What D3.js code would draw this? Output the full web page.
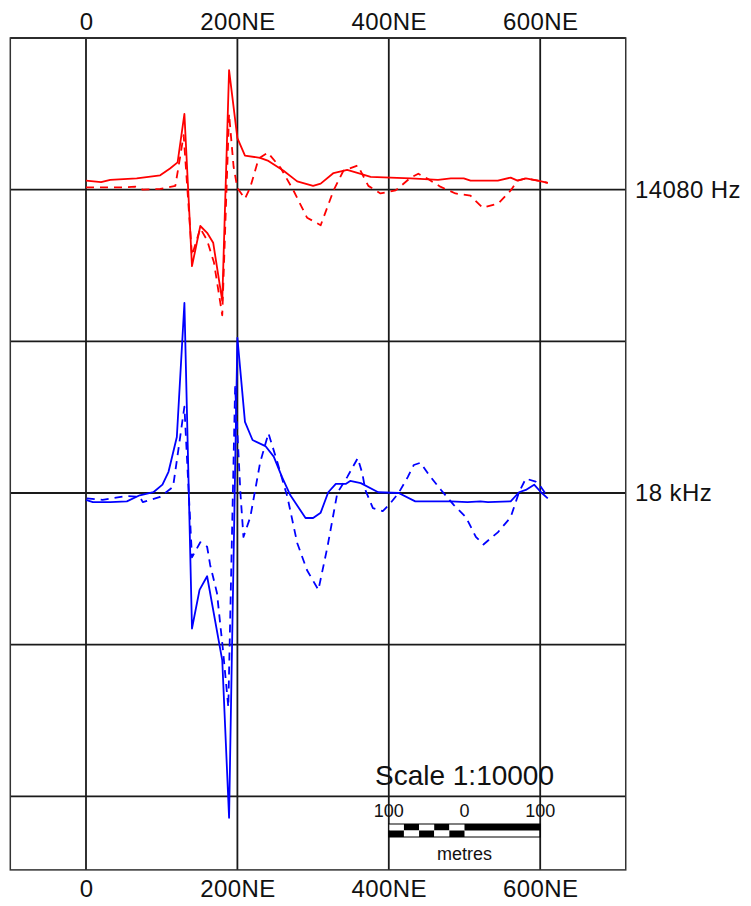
<!DOCTYPE html>
<html>
<head>
<meta charset="utf-8">
<script src="https://cdn.jsdelivr.net/npm/d3@7"></script>
<style>
  html, body { margin: 0; padding: 0; background: #fff; }
  svg { display: block; }
</style>
</head>
<body>
<svg id="chart" width="751" height="906"></svg>
<script>
// station positions along line (m) and profile values
var xTicks = [0, 200, 400, 600];
var xTickLabels = ["0", "200NE", "400NE", "600NE"];
var gridRows = [0, 200, 400, 600, 800, 1000];
var frameX = [-100, 713];
var frameY = [0, 1097];

var channels = ["14080 Hz", "18 kHz"];
var baselines = [200, 600];

// 14080 Hz
var hz14080Solid = [[0,12],[20,10],[32,13],[67,15],[98,19],[111,28],[121,36],[130,100],[140,-101],[151,-48],[160,-57],[168,-70],[180,-147],[189,158],[200,68],[210,45],[230,42],[241,38],[261,25],[279,11],[300,5],[310,8],[327,22],[345,26],[363,21],[376,17],[402,16],[429,15],[465,13],[482,15],[499,15],[508,12],[544,12],[561,16],[570,12],[581,15],[597,12],[610,9]];
var hz14080Dash = [[0,3],[20,3],[49,3],[65,4],[75,0],[98,1],[118,5],[122,29],[129,72],[140,-87],[151,-51],[160,-67],[169,-96],[180,-166],[189,100],[195,30],[200,2],[210,-12],[217,3],[228,41],[240,49],[257,29],[274,-1],[292,-37],[310,-47],[327,-1],[340,25],[359,32],[373,5],[389,-5],[409,-1],[429,16],[439,21],[452,14],[468,4],[488,-5],[508,-8],[524,-24],[545,-18],[561,-1],[570,12],[581,15],[597,12],[610,9]];

// 18 kHz
var khz18Solid = [[0,-9],[9,-12],[32,-12],[54,-11],[71,-3],[89,1],[101,11],[109,28],[120,74],[130,251],[140,-179],[150,-128],[160,-110],[180,-221],[189,-429],[200,205],[210,94],[220,70],[237,62],[248,48],[259,21],[270,-3],[290,-33],[300,-33],[310,-26],[320,1],[330,12],[343,12],[349,16],[363,13],[386,1],[413,0],[435,-11],[482,-11],[504,-12],[521,-11],[531,-12],[561,-11],[572,1],[581,4],[592,11],[601,1],[610,-7]];
var khz18Dash = [[1,-7],[22,-9],[54,-4],[71,-5],[75,-12],[98,-5],[115,8],[122,57],[130,114],[140,-85],[151,-65],[160,-71],[164,-95],[173,-132],[181,-208],[188,-283],[197,140],[204,0],[208,-58],[217,-32],[230,40],[241,79],[253,40],[266,-5],[279,-66],[292,-102],[307,-128],[319,-71],[332,0],[345,21],[359,46],[365,26],[369,4],[379,-20],[392,-24],[400,-16],[413,0],[425,21],[433,37],[442,40],[453,24],[469,4],[486,-16],[502,-32],[515,-58],[525,-68],[544,-52],[561,-32],[572,1],[581,19],[594,15],[601,8],[610,-5]];

var scaleBarTicks = [-100, 0, 100];
var scaleBarLabels = ["100", "0", "100"];
var scaleBarSegs = [0, 20, 40, 60, 80];

var svg = d3.select("#chart");
var font = "'Liberation Sans', Arial, sans-serif";

var x = d3.scaleLinear().domain([0, 600]).range([86, 540.2]);
var y = d3.scaleLinear().domain([0, 600]).range([38, 493]);
var amp = d3.scaleLinear().domain([0, 100]).range([0, -75.7]);

var frameL = x(frameX[0]), frameR = x(frameX[1]),
	frameT = y(frameY[0]), frameB = y(frameY[1]);

// grid
var grid = svg.append("g").attr("stroke", "#1a1a1a").attr("stroke-width", 1.8);
grid.selectAll(".vl").data(xTicks).enter().append("line")
	.attr("x1", function(d){ return x(d); }).attr("x2", function(d){ return x(d); })
	.attr("y1", frameT).attr("y2", frameB);
grid.selectAll(".hl").data(gridRows).enter().append("line")
	.attr("x1", frameL).attr("x2", frameR)
	.attr("y1", function(d){ return y(d); }).attr("y2", function(d){ return y(d); });
svg.append("rect")
	.attr("x", frameL).attr("y", frameT)
	.attr("width", frameR - frameL).attr("height", frameB - frameT)
	.attr("fill", "none").attr("stroke", "#333").attr("stroke-width", 1.5);

// axes labels top and bottom
var axTop = d3.axisTop(x).tickValues(xTicks)
	.tickFormat(function(d, i){ return xTickLabels[i]; }).tickSize(0).tickPadding(8);
var axBot = d3.axisBottom(x).tickValues(xTicks)
	.tickFormat(function(d, i){ return xTickLabels[i]; }).tickSize(0).tickPadding(10);

svg.append("g").attr("transform", "translate(0," + frameT + ")").call(axTop);
svg.append("g").attr("transform", "translate(0," + frameB + ")").call(axBot);
svg.selectAll(".domain").remove();
svg.selectAll(".tick text")
	.attr("font-family", font).attr("font-size", 24).attr("fill", "#111")
	.attr("letter-spacing", 0.4);

// channel labels
svg.selectAll(".chan").data(channels).enter().append("text")
	.attr("x", 635)
	.attr("y", function(d, i){ return y(baselines[i]) + 8; })
	.attr("font-family", font).attr("font-size", 24).attr("fill", "#111")
	.attr("letter-spacing", 0.4)
	.text(function(d){ return d; });

// profiles
function profile(data, base, color, dashed) {
	var line = d3.line()
		.x(function(d){ return x(d[0]); })
		.y(function(d){ return y(base) + amp(d[1]); });
	svg.append("path")
		.datum(data)
		.attr("d", line)
		.attr("fill", "none")
		.attr("stroke", color)
		.attr("stroke-width", 1.8)
		.attr("stroke-linejoin", "round")
		.attr("stroke-dasharray", dashed ? "8,6" : null);
}
profile(hz14080Solid, baselines[0], "#ff0000", false);
profile(hz14080Dash, baselines[0], "#ff0000", true);
profile(khz18Solid, baselines[1], "#0000ff", false);
profile(khz18Dash, baselines[1], "#0000ff", true);

// scale bar
var sbx = d3.scaleLinear().domain([-100, 100]).range([x(400), x(600)]);
var sb = svg.append("g");
sb.append("text")
	.attr("x", sbx(0)).attr("y", 785)
	.attr("text-anchor", "middle")
	.attr("font-family", font).attr("font-size", 28).attr("fill", "#111")
	.text("Scale 1:10000");
sb.selectAll(".sbl").data(scaleBarTicks).enter().append("text")
	.attr("x", function(d){ return sbx(d); }).attr("y", 817)
	.attr("text-anchor", "middle")
	.attr("font-family", font).attr("font-size", 18).attr("fill", "#111")
	.text(function(d, i){ return scaleBarLabels[i]; });
var barTop = 824, barMid = 830.5, barBot = 837;
sb.selectAll(".segT").data(scaleBarSegs).enter().append("rect")
	.attr("x", function(d){ return sbx(d - 100); })
	.attr("y", barTop)
	.attr("width", sbx(20) - sbx(0))
	.attr("height", barMid - barTop)
	.attr("fill", function(d, i){ return i % 2 ? "#000" : "#fff"; });
sb.selectAll(".segB").data(scaleBarSegs).enter().append("rect")
	.attr("x", function(d){ return sbx(d - 100); })
	.attr("y", barMid)
	.attr("width", sbx(20) - sbx(0))
	.attr("height", barBot - barMid)
	.attr("fill", function(d, i){ return i % 2 ? "#fff" : "#000"; });
sb.append("rect")
	.attr("x", sbx(0)).attr("y", barTop)
	.attr("width", sbx(100) - sbx(0)).attr("height", barMid - barTop)
	.attr("fill", "#000");
sb.append("rect")
	.attr("x", sbx(-100)).attr("y", barTop)
	.attr("width", sbx(100) - sbx(-100)).attr("height", barBot - barTop)
	.attr("fill", "none").attr("stroke", "#000").attr("stroke-width", 1);
sb.append("text")
	.attr("x", sbx(0)).attr("y", 860)
	.attr("text-anchor", "middle")
	.attr("font-family", font).attr("font-size", 18).attr("fill", "#111")
	.text("metres");
</script>
</body>
</html>
